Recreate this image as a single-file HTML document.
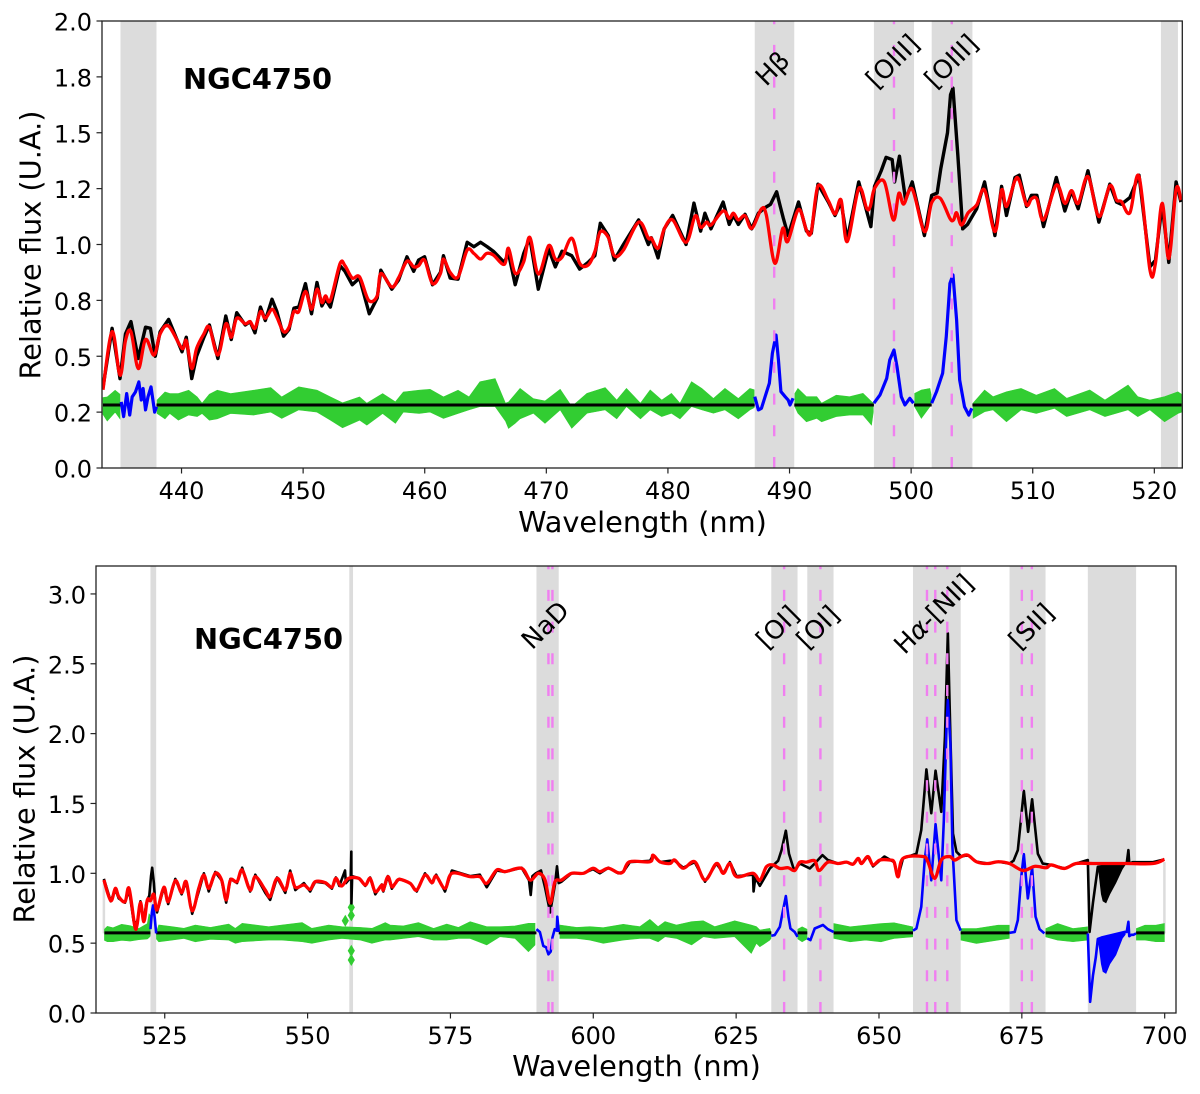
<!DOCTYPE html>
<html lang="en">
<head>
<meta charset="utf-8">
<title>NGC4750 spectrum</title>
<style>
html,body{margin:0;padding:0;background:#fff;}
svg{display:block;}
text{font-family:"DejaVu Sans","Liberation Sans",sans-serif;fill:#000;}
</style>
</head>
<body>
<svg id="figure" xmlns="http://www.w3.org/2000/svg" width="1200" height="1094" viewBox="0 0 1200 1094"></svg>
<script>
/* ---------- Panel 1 data (blue arm) ---------- */
const ticksX1 = [440,450,460,470,480,490,500,510,520];
const ticksY1 = [0,0.25,0.5,0.75,1,1.25,1.5,1.75,2];
const tickLabelsY1 = ["0.0","0.2","0.5","0.8","1.0","1.2","1.5","1.8","2.0"];
const bandStart1 = [434.74,486.9,496.7,501.45,520.3];
const bandEnd1 = [437.7,490.15,500.0,504.8,521.7];
const maskStart1 = [434.74,486.9,496.7,501.45];
const maskEnd1 = [437.7,490.15,500.0,504.8];
const lineWave1 = [488.5,498.35,503.1];
const baseline1 = 0.282;

const redWave1 = [433.3,434.05,434.7,435.15,435.6,436.2,436.8,437.5,438.0,438.7,439.8,440.15,440.6,441.0,441.6,442.05,442.75,443.4,443.85,444.3,445.0,445.4,445.8,446.25,446.65,447.2,447.6,448.15,448.6,449.0,449.4,449.95,450.45,450.9,451.3,451.6,452.0,452.8,453.2,453.8,454.4,455.15,455.85,456.15,457.05,457.6,458.3,458.85,459.25,459.75,460.4,461.05,461.3,461.85,462.5,463.25,463.8,464.35,464.85,465.4,466.3,466.65,467.2,467.9,468.4,469.1,469.95,470.5,471.05,471.85,472.5,473.2,473.75,474.2,474.85,475.35,476.1,477.35,478.15,478.4,478.95,479.45,480.15,481.25,482.0,482.45,482.95,483.3,484.3,484.8,485.15,485.55,486.1,486.65,487.45,487.85,488.55,489.2,489.6,490.5,491.15,491.55,492.1,492.95,493.5,494.0,494.5,495.45,496.1,496.4,496.75,497.55,498.3,498.75,499.15,499.85,500.85,501.45,502.15,502.95,503.25,503.5,503.9,504.45,505.15,505.8,506.65,507.2,507.6,508.3,508.65,509.25,509.65,510.1,510.65,511.7,512.4,512.95,513.5,514.3,515.2,516.1,516.65,517.05,517.75,518.5,519.4,519.85,520.4,520.95,521.55,521.95];
const redFlux1 = [0.35,0.61,0.415,0.57,0.61,0.445,0.575,0.505,0.60,0.635,0.535,0.57,0.445,0.535,0.60,0.63,0.505,0.645,0.585,0.67,0.645,0.655,0.625,0.70,0.67,0.71,0.675,0.61,0.63,0.70,0.70,0.79,0.71,0.80,0.74,0.77,0.75,0.915,0.905,0.85,0.855,0.75,0.77,0.87,0.81,0.85,0.925,0.90,0.905,0.93,0.825,0.87,0.935,0.875,0.855,0.975,0.96,0.935,0.96,0.953,0.911,0.983,0.871,0.923,1.032,0.868,0.995,0.935,0.943,1.028,0.916,0.908,0.968,1.057,1.032,0.949,0.975,1.10,1.028,1.028,0.983,1.068,1.11,1.01,1.128,1.077,1.10,1.087,1.15,1.117,1.14,1.11,1.129,1.072,1.159,1.132,0.916,1.072,1.013,1.157,1.065,1.058,1.262,1.196,1.136,1.199,1.013,1.251,1.162,1.17,1.251,1.281,1.11,1.229,1.181,1.248,1.058,1.187,1.207,1.117,1.11,1.142,1.087,1.142,1.177,1.244,1.058,1.244,1.17,1.286,1.286,1.177,1.204,1.204,1.11,1.266,1.184,1.241,1.184,1.304,1.125,1.263,1.199,1.192,1.142,1.304,0.886,0.916,1.184,0.938,1.247,1.199];

const blackWave1 = [433.3,434.05,434.7,435.15,435.6,436.2,436.8,437.2,437.6,438.0,438.7,439.8,440.15,440.6,441.0,441.6,442.05,442.75,443.4,443.85,444.3,445.0,445.4,445.8,446.25,446.65,447.2,447.6,448.15,448.6,449.0,449.4,449.95,450.45,450.9,451.3,451.6,452.0,452.8,453.2,453.8,454.4,455.2,455.85,456.15,457.05,457.6,458.3,458.85,459.25,459.75,460.4,461.05,461.3,461.85,462.5,463.25,463.8,464.35,464.9,465.4,466.3,466.65,467.2,467.9,468.4,469.1,469.95,470.5,471.05,471.85,472.5,473.2,473.75,474.2,474.85,475.35,476.1,477.35,478.15,478.4,478.95,479.45,480.15,481.25,481.9,482.45,482.8,483.3,484.3,484.8,485.15,485.55,486.1,486.65,487.2,487.75,488.2,488.7,489.0,489.25,489.65,490.5,491.15,491.55,492.1,492.95,493.5,494.0,494.5,495.45,496.1,496.45,496.75,497.3,497.7,498.2,498.4,498.8,499.3,499.85,500.85,501.45,501.9,502.2,502.75,503.0,503.2,503.6,504.0,504.4,505.15,505.8,506.65,507.2,507.6,508.3,508.65,509.25,509.65,510.1,510.65,511.7,512.4,512.95,513.5,514.3,515.2,516.1,516.65,517.05,517.75,518.5,519.4,519.85,520.4,520.95,521.55,521.95];
const blackFlux1 = [0.36,0.625,0.40,0.60,0.655,0.49,0.63,0.625,0.50,0.61,0.665,0.52,0.585,0.40,0.50,0.585,0.64,0.49,0.68,0.575,0.695,0.64,0.655,0.605,0.72,0.66,0.755,0.70,0.59,0.62,0.715,0.72,0.825,0.69,0.83,0.725,0.755,0.72,0.905,0.88,0.82,0.85,0.69,0.76,0.885,0.80,0.84,0.945,0.88,0.93,0.945,0.82,0.875,0.95,0.85,0.845,1.01,0.99,1.01,0.99,0.97,0.92,0.96,0.82,0.96,1.03,0.80,0.98,0.90,0.97,0.95,0.89,0.92,0.95,1.095,1.04,0.93,1.0,1.11,1.0,1.03,0.94,1.07,1.13,1.0,1.185,1.06,1.14,1.07,1.19,1.09,1.13,1.09,1.135,1.07,1.14,1.165,1.18,1.236,1.17,1.117,1.04,1.19,1.06,1.05,1.27,1.19,1.13,1.19,1.02,1.28,1.15,1.08,1.26,1.33,1.39,1.38,1.28,1.395,1.2,1.28,1.04,1.22,1.23,1.34,1.5,1.67,1.70,1.4,1.07,1.09,1.16,1.28,1.04,1.26,1.13,1.30,1.31,1.17,1.22,1.22,1.08,1.30,1.15,1.24,1.16,1.33,1.10,1.27,1.19,1.18,1.21,1.31,0.90,0.93,1.18,0.92,1.28,1.19];

const blueWave1 = [434.8,435.0,435.25,435.5,435.7,435.97,436.25,436.45,436.6,436.8,437.0,437.25,437.55,437.7,null,486.9,487.2,487.45,487.75,488.1,488.35,488.65,488.85,489.05,489.4,489.65,489.8,490.05,null,496.7,497.2,497.75,498.0,498.35,498.6,498.95,499.25,499.65,499.95,null,501.45,501.85,502.35,502.65,502.95,503.2,503.5,503.75,504.15,504.5,504.75];
const blueFlux1 = [0.296,0.23,0.333,0.237,0.318,0.34,0.385,0.304,0.356,0.26,0.318,0.363,0.25,0.274,null,0.319,0.26,0.267,0.319,0.379,0.513,0.595,0.483,0.342,0.319,0.304,0.282,0.312,null,0.29,0.327,0.401,0.483,0.528,0.453,0.319,0.282,0.312,0.29,null,0.29,0.342,0.424,0.588,0.826,0.864,0.662,0.394,0.274,0.237,0.267];

const greenWave1 = [433.3,433.65,434.3,434.7,437.75,438.4,438.8,439.5,440.35,441.05,441.45,442.05,442.7,443.8,445.7,447.1,448.0,449.4,450.9,452.0,453.0,454.4,455.0,456.3,457.35,458.0,459.3,460.2,461.3,462.5,463.4,464.3,465.55,466.4,466.65,467.2,467.6,468.7,469.65,470.9,471.85,473.1,474.6,475.55,476.35,477.5,478.3,479.25,480.05,480.75,481.7,482.55,483.5,484.45,485.55,486.5,486.85,490.2,490.45,491.15,492.0,492.4,493.6,494.7,495.8,496.5,496.65,500.05,500.6,501.3,501.4,504.85,505.8,506.5,507.6,508.8,510.05,511.55,512.55,514.45,515.7,517.6,518.4,519.4,520.6,521.7,522.0];
const greenUpper1 = [0.315,0.318,0.348,0.33,0.304,0.34,0.333,0.333,0.348,0.318,0.29,0.33,0.348,0.333,0.348,0.36,0.318,0.363,0.348,0.318,0.292,0.318,0.29,0.333,0.296,0.34,0.348,0.352,0.318,0.348,0.318,0.386,0.40,0.29,0.295,0.33,0.356,0.31,0.30,0.352,0.275,0.334,0.36,0.304,0.356,0.29,0.349,0.304,0.334,0.29,0.386,0.356,0.311,0.356,0.311,0.356,0.35,0.334,0.356,0.319,0.319,0.29,0.326,0.319,0.334,0.297,0.29,0.334,0.349,0.356,0.33,0.29,0.349,0.319,0.341,0.356,0.326,0.356,0.312,0.349,0.304,0.371,0.319,0.304,0.319,0.341,0.33];
const greenLower1 = [0.24,0.21,0.25,0.22,0.244,0.22,0.244,0.214,0.237,0.23,0.244,0.214,0.22,0.244,0.237,0.25,0.222,0.26,0.25,0.214,0.18,0.214,0.192,0.244,0.2,0.25,0.244,0.25,0.222,0.244,0.26,0.275,0.275,0.21,0.177,0.20,0.22,0.245,0.20,0.26,0.178,0.245,0.26,0.22,0.275,0.22,0.26,0.23,0.245,0.22,0.275,0.26,0.245,0.26,0.22,0.26,0.27,0.274,0.245,0.207,0.222,0.207,0.23,0.237,0.237,0.192,0.25,0.274,0.222,0.274,0.28,0.222,0.252,0.26,0.207,0.26,0.244,0.267,0.23,0.26,0.23,0.26,0.23,0.26,0.207,0.244,0.25];

/* ---------- Panel 2 data (red arm) ---------- */
const ticksX2 = [525,550,575,600,625,650,675,700];
const ticksY2 = [0,0.5,1,1.5,2,2.5,3];
const tickLabelsY2 = ["0.0","0.5","1.0","1.5","2.0","2.5","3.0"];
const bandStart2 = [522.55,557.35,590.1,631.2,637.5,656.0,672.9,686.6];
const bandEnd2 = [523.55,558.0,594.0,635.8,642.1,664.35,679.2,695.05];
const maskStart2 = [522.55,590.1,631.2,637.5,656.0,672.9,686.6];
const maskEnd2 = [523.55,594.0,635.8,642.1,664.35,679.2,695.05];
const lineWave2 = [592.2,592.9,633.45,639.8,658.45,659.9,662.0,675.05,676.8];
const baseline2 = 0.574;
const stripWave2 = [514.4,700.0];
const stripLow2 = [0.57,0.57];
const stripHigh2 = [0.93,1.08];
const diamondWave2 = [556.65,557.7,557.7,557.7,557.7];
const diamondFlux2 = [0.66,0.756,0.699,0.446,0.379];

const redWave2 = [514.4,515.6,516.4,517.0,518.1,518.8,519.8,520.2,520.8,521.4,522.0,522.55,523.15,523.7,524.9,525.65,526.9,528.0,528.8,529.85,531.0,531.9,532.75,533.9,535.0,535.8,536.55,537.7,538.6,540.0,540.9,542.65,543.5,544.7,546.15,547.0,547.9,549.4,550.5,551.4,553.15,554.3,555.0,555.95,557.2,559.0,560.15,561.0,561.9,563.05,563.3,564.1,564.8,565.4,566.1,568.0,569.15,570.6,571.8,572.55,574.1,575.3,578.5,580.2,581.4,583.15,584.6,587.5,589.0,590.45,591.6,592.5,593.35,594.5,596.25,598.3,600.0,601.2,602.7,604.4,605.3,606.45,610.0,610.5,611.7,613.45,614.3,615.8,617.8,619.6,621.6,622.8,623.95,625.1,628.0,629.2,630.35,631.5,632.7,634.15,635.3,636.2,637.35,638.8,639.55,641.1,642.9,644.35,645.5,646.4,647.0,648.1,649.0,650.2,651.9,652.7,653.4,654.25,657.75,658.6,659.8,660.95,662.4,663.3,664.45,665.6,667.1,669.1,670.9,672.9,675.25,677.3,679.3,680.2,682.5,684.55,687.5,693.3,698.0,700.0];
const redFlux2 = [0.952,0.804,0.892,0.833,0.797,0.892,0.623,0.63,0.79,0.654,0.809,0.804,0.85,0.737,0.90,0.797,0.947,0.861,0.94,0.732,0.892,0.988,0.892,1.0,0.952,0.809,0.952,0.94,1.024,0.88,0.976,0.88,0.833,0.964,0.88,1.0,0.90,0.916,0.885,0.94,0.933,0.90,0.964,0.909,0.964,0.964,0.916,0.964,0.868,0.916,0.88,0.976,0.904,0.928,0.957,0.928,0.88,0.988,0.933,0.98,0.892,1.0,0.976,0.976,0.928,1.024,1.012,1.036,0.952,1.0,0.952,0.785,0.94,0.952,1.0,1.0,1.036,1.012,1.036,1.004,1.012,1.083,1.083,1.13,1.083,1.07,1.095,1.036,1.083,0.952,1.07,1.0,1.07,0.976,1.0,0.95,1.047,1.06,1.035,1.04,1.02,1.08,1.08,1.09,1.02,1.08,1.07,1.08,1.065,1.107,1.07,1.12,1.06,1.095,1.095,1.08,0.975,1.107,1.12,1.083,0.964,1.095,1.12,1.095,1.12,1.13,1.083,1.07,1.083,1.07,1.02,1.05,1.04,1.06,1.035,1.07,1.07,1.07,1.07,1.10];

const blackWave2 = [514.4,515.6,516.4,517.0,518.1,518.8,519.6,520.2,520.8,521.4,521.8,522.1,522.35,522.65,522.85,523.15,523.4,523.7,524.9,525.65,526.9,528.0,528.8,529.85,531.0,531.9,532.75,533.9,535.0,535.8,536.55,537.7,538.6,540.0,540.9,542.65,543.5,544.7,546.15,547.0,547.9,549.4,550.5,551.4,553.15,554.3,555.0,555.6,556.6,556.75,557.6,557.7,557.72,557.85,559.0,560.15,561.0,561.9,563.05,563.3,564.1,564.8,565.4,566.1,568.0,569.15,570.6,571.8,572.55,574.1,575.3,578.5,580.2,581.4,583.15,584.6,587.5,588.8,589.1,589.4,590.0,590.9,591.6,592.5,593.35,593.7,594.0,594.5,596.25,598.3,600.0,601.2,602.7,604.4,605.3,606.45,610.0,610.5,611.7,613.45,614.3,615.8,617.8,619.6,621.6,622.8,623.95,625.1,628.0,628.1,628.4,629.2,630.95,632.4,633.0,633.75,634.3,635.0,635.3,636.2,637.95,638.8,640.15,641.1,642.9,644.35,645.5,646.4,647.0,648.1,649.0,651.0,652.7,653.4,654.25,656.6,657.45,658.35,659.2,659.95,660.95,661.6,662.1,662.55,663.0,663.6,664.45,665.6,667.1,669.1,670.9,672.9,673.6,674.35,675.4,676.15,676.85,677.85,678.7,680.2,682.5,684.55,686.6,686.9,687.5,688.35,689.0,690.0,691.0,692.0,693.0,693.4,693.7,693.85,694.5,696.0,698.0,700.0];
const blackFlux2 = [0.96,0.80,0.885,0.82,0.79,0.885,0.66,0.64,0.80,0.66,0.78,0.82,0.84,0.98,1.04,0.93,0.78,0.72,0.90,0.78,0.96,0.85,0.94,0.71,0.87,1.0,0.87,1.01,0.95,0.79,0.96,0.93,1.04,0.87,0.99,0.86,0.81,0.97,0.86,1.02,0.88,0.93,0.87,0.94,0.93,0.89,0.97,0.91,1.02,0.93,0.97,1.155,0.785,0.98,0.965,0.91,0.97,0.85,0.92,0.87,0.98,0.89,0.93,0.96,0.93,0.87,1.0,0.93,0.99,0.87,1.02,0.98,0.99,0.90,1.02,1.01,1.04,0.95,0.845,0.98,1.0,1.02,0.90,0.72,0.92,1.05,0.93,0.94,1.0,1.0,1.03,1.0,1.04,1.0,1.01,1.08,1.09,1.13,1.08,1.09,1.09,1.04,1.08,0.94,1.07,1.0,1.08,0.98,0.99,0.87,0.97,0.91,1.035,1.09,1.166,1.305,1.14,1.047,1.02,1.07,1.035,1.07,1.13,1.095,1.07,1.08,1.065,1.107,1.07,1.12,1.05,1.12,1.08,0.975,1.107,1.14,1.31,1.744,1.43,1.735,1.44,1.98,2.72,1.98,1.285,1.155,1.12,1.13,1.083,1.07,1.083,1.07,1.09,1.166,1.59,1.297,1.53,1.14,1.07,1.06,1.035,1.07,1.095,0.58,0.79,1.047,1.05,1.06,1.06,1.07,1.07,1.07,1.166,1.07,1.08,1.08,1.08,1.10];

const blueWave2 = [522.55,522.8,523.0,523.3,523.55,null,590.1,590.7,591.3,591.8,592.2,592.6,592.9,593.3,593.65,593.75,594.0,null,631.2,631.8,632.7,633.15,633.75,634.2,634.55,635.3,635.8,null,637.5,638.05,638.8,640.25,641.1,642.1,null,656.0,656.6,657.45,658.05,658.5,659.2,659.95,660.95,661.4,661.85,662.1,662.55,662.9,663.6,664.35,null,672.9,673.8,674.35,674.95,675.4,676.1,676.85,677.45,678.15,679.0,null,686.6,687.0,687.5,688.0,688.35,689.0,690.0,691.0,692.0,693.0,693.4,693.7,693.85,694.2,694.6,695.05];
const blueFlux2 = [0.60,0.72,0.77,0.68,0.57,null,0.60,0.58,0.48,0.47,0.42,0.44,0.54,0.60,0.59,0.69,0.58,null,0.553,0.558,0.617,0.713,0.837,0.69,0.605,0.58,0.545,null,0.534,0.522,0.605,0.63,0.60,0.58,null,0.589,0.605,0.76,1.095,1.243,0.95,1.352,0.95,1.38,2.025,2.24,1.93,1.19,0.665,0.59,null,0.574,0.58,0.665,0.975,1.137,0.82,1.04,0.69,0.60,0.57,null,0.57,0.08,0.27,0.40,0.53,0.54,0.55,0.56,0.57,0.58,0.58,0.653,0.55,0.56,0.56,0.57];

/* Unresolved rapid oscillation beyond 688 nm, read as an upper/lower envelope */
const envWave2 = [688.35,688.9,689.2,689.8,690.5,691.55,692.7,693.2];
const blackEnvUpper2 = [1.05,1.05,1.05,1.06,1.06,1.07,1.07,1.07];
const blackEnvLower2 = [1.05,0.85,0.80,0.785,0.85,0.93,1.03,1.06];
const blueEnvUpper2 = [0.53,0.54,0.54,0.55,0.55,0.56,0.57,0.58];
const blueEnvLower2 = [0.53,0.35,0.295,0.28,0.35,0.414,0.534,0.56];

const greenWave2 = [514.5,515.0,516.0,517.5,519.0,520.5,522.0,522.3,522.5,523.6,524.0,526.35,528.4,530.4,533.05,536.25,537.4,538.6,543.25,545.55,549.1,550.8,553.75,556.05,559.3,561.3,563.65,564.5,566.8,569.45,572.1,574.4,576.45,578.5,581.4,583.7,586.35,588.7,589.85,594.2,597.15,599.45,601.8,605.3,608.2,609.95,611.4,612.6,614.6,617.25,619.3,621.3,624.8,627.7,628.6,629.2,630.95,631.15,635.85,636.6,637.45,642.15,645.0,647.7,650.4,652.7,655.95,664.4,667.1,670.9,672.85,679.25,681.3,684.0,686.55,695.1,696.6,698.5,700.0];
const greenUpper2 = [0.60,0.62,0.61,0.635,0.625,0.605,0.64,0.71,0.70,0.58,0.63,0.618,0.606,0.63,0.613,0.637,0.606,0.642,0.618,0.63,0.647,0.606,0.63,0.618,0.613,0.606,0.647,0.63,0.623,0.647,0.606,0.637,0.613,0.654,0.618,0.618,0.623,0.642,0.642,0.63,0.613,0.618,0.611,0.635,0.618,0.67,0.618,0.654,0.63,0.654,0.66,0.618,0.66,0.63,0.618,0.594,0.606,0.58,0.60,0.617,0.60,0.64,0.617,0.629,0.64,0.646,0.617,0.605,0.605,0.629,0.629,0.605,0.641,0.605,0.617,0.605,0.629,0.629,0.641];
const greenLower2 = [0.52,0.51,0.51,0.52,0.515,0.525,0.53,0.54,0.55,0.53,0.51,0.522,0.534,0.51,0.527,0.522,0.499,0.51,0.522,0.522,0.51,0.499,0.522,0.534,0.522,0.499,0.522,0.522,0.534,0.546,0.522,0.522,0.534,0.534,0.487,0.546,0.534,0.439,0.487,0.534,0.534,0.522,0.499,0.522,0.534,0.534,0.51,0.546,0.534,0.487,0.546,0.534,0.546,0.427,0.499,0.474,0.522,0.534,0.53,0.51,0.53,0.534,0.51,0.522,0.51,0.534,0.545,0.522,0.498,0.522,0.534,0.545,0.522,0.51,0.522,0.522,0.522,0.51,0.51];

/* ---------- Helpers ---------- */
const NS = 'http://www.w3.org/2000/svg';
const fig = document.getElementById('figure');

function mk(parent, tag, attrs, content) {
  const el = document.createElementNS(NS, tag);
  for (const k in attrs) el.setAttribute(k, attrs[k]);
  if (content !== undefined) el.textContent = content;
  parent.appendChild(el);
  return el;
}
function linearScale(d0, d1, r0, r1) {
  return function (v) { return r0 + (v - d0) * (r1 - r0) / (d1 - d0); };
}
function inMask(w, ms, me) {
  for (let i = 0; i < ms.length; i++) if (w > ms[i] && w < me[i]) return true;
  return false;
}
function crossesMask(a, b, ms, me) {
  for (let i = 0; i < ms.length; i++) if (a < ms[i] && b > me[i]) return true;
  return false;
}
function linePath(wave, flux, sx, sy) {
  let d = '', pen = false;
  for (let i = 0; i < wave.length; i++) {
    if (wave[i] === null || flux[i] === null) { pen = false; continue; }
    d += (pen ? 'L' : 'M') + sx(wave[i]).toFixed(2) + ' ' + sy(flux[i]).toFixed(2);
    pen = true;
  }
  return d;
}
function smoothPath(wave, flux, sx, sy) {
  const p = wave.map(function (w, i) { return [sx(w), sy(flux[i])]; });
  let d = 'M' + p[0][0].toFixed(2) + ' ' + p[0][1].toFixed(2);
  for (let i = 0; i < p.length - 1; i++) {
    const a = p[Math.max(i - 1, 0)], b = p[i], c = p[i + 1], e = p[Math.min(i + 2, p.length - 1)];
    const c1x = b[0] + (c[0] - a[0]) / 6, c1y = b[1] + (c[1] - a[1]) / 6;
    const c2x = c[0] - (e[0] - b[0]) / 6, c2y = c[1] - (e[1] - b[1]) / 6;
    d += 'C' + c1x.toFixed(2) + ' ' + c1y.toFixed(2) + ' ' + c2x.toFixed(2) + ' ' + c2y.toFixed(2) + ' ' + c[0].toFixed(2) + ' ' + c[1].toFixed(2);
  }
  return d;
}
function envelopePath(wave, up, lo, ms, me, sx, sy) {
  let d = '', seg = [];
  function flush() {
    if (seg.length > 1) {
      let s = '';
      seg.forEach(function (i, n) { s += (n ? 'L' : 'M') + sx(wave[i]).toFixed(2) + ' ' + sy(up[i]).toFixed(2); });
      seg.slice().reverse().forEach(function (i) { s += 'L' + sx(wave[i]).toFixed(2) + ' ' + sy(lo[i]).toFixed(2); });
      d += s + 'Z';
    }
    seg = [];
  }
  for (let i = 0; i < wave.length; i++) {
    if (inMask(wave[i], ms, me)) { flush(); continue; }
    if (seg.length && crossesMask(wave[seg[seg.length - 1]], wave[i], ms, me)) flush();
    seg.push(i);
  }
  flush();
  return d;
}
function baselinePath(v, d0, d1, ms, me, sx, sy) {
  let d = '', start = d0;
  const y = sy(v).toFixed(2);
  for (let i = 0; i < ms.length; i++) {
    d += 'M' + sx(start).toFixed(2) + ' ' + y + 'L' + sx(ms[i]).toFixed(2) + ' ' + y;
    start = me[i];
  }
  d += 'M' + sx(start).toFixed(2) + ' ' + y + 'L' + sx(d1).toFixed(2) + ' ' + y;
  return d;
}

/* ---------- Panel renderer ---------- */
function drawPanel(cfg) {
  const sxAxis = linearScale(cfg.xd[0], cfg.xd[1], cfg.L, cfg.R);
  /* wavelength calibration of the spectrum relative to the tick marks */
  const sx = function (w) { return sxAxis(w + cfg.calib); };
  const sy = linearScale(cfg.yd[0], cfg.yd[1], cfg.B, cfg.T);

  const g = mk(fig, 'g', {});
  
  

  const defs = mk(g, 'defs', {});
  const cp = mk(defs, 'clipPath', { id: cfg.id + '-clip' });
  mk(cp, 'rect', { x: cfg.L, y: cfg.T, width: cfg.R - cfg.L, height: cfg.B - cfg.T });

  const plot = mk(g, 'g', { 'clip-path': 'url(#' + cfg.id + '-clip)' });
  
  

  cfg.bandStart.forEach(function (s, i) {
    const b = mk(plot, 'rect', { x: sx(s), y: cfg.T, width: sx(cfg.bandEnd[i]) - sx(s), height: cfg.B - cfg.T, fill: '#dcdcdc' });
    
    
  });

  if (cfg.stripWave) {
    cfg.stripWave.forEach(function (w, i) {
      const st = mk(plot, 'line', { x1: sx(w), x2: sx(w), y1: sy(cfg.stripLow[i]), y2: sy(cfg.stripHigh[i]), stroke: '#dcdcdc', 'stroke-width': 2.5 });
      
      
    });
  }

  const green = mk(plot, 'path', { d: envelopePath(cfg.gw, cfg.gu, cfg.gl, cfg.ms, cfg.me, sx, sy), fill: '#32cd32', stroke: '#32cd32', 'stroke-width': 0.6 });
  
  

  if (cfg.dw) {
    cfg.dw.forEach(function (w, i) {
      const cx = sx(w), cy = sy(cfg.df[i]);
      const di = mk(plot, 'polygon', { points: cx + ',' + (cy - 6) + ' ' + (cx + 3.6) + ',' + cy + ' ' + cx + ',' + (cy + 6) + ' ' + (cx - 3.6) + ',' + cy, fill: '#32cd32' });
      
      
    });
  }

  const base = mk(plot, 'path', { d: baselinePath(cfg.base, cfg.gw[0], cfg.gw[cfg.gw.length - 1], cfg.ms, cfg.me, sx, sy), fill: 'none', stroke: '#000', 'stroke-width': 3 });
  
  

  const black = mk(plot, 'path', { d: linePath(cfg.kw, cfg.kf, sx, sy), fill: 'none', stroke: '#000', 'stroke-width': cfg.kStroke, 'stroke-linejoin': 'round' });
  
  

  const blue = mk(plot, 'path', { d: linePath(cfg.bw, cfg.bf, sx, sy), fill: 'none', stroke: '#0000ff', 'stroke-width': cfg.bStroke, 'stroke-linejoin': 'round' });
  
  

  if (cfg.ew) {
    const ke = mk(plot, 'path', { d: envelopePath(cfg.ew, cfg.eku, cfg.ekl, [], [], sx, sy), fill: '#000' });
    
    
    const be = mk(plot, 'path', { d: envelopePath(cfg.ew, cfg.ebu, cfg.ebl, [], [], sx, sy), fill: '#0000ff' });
    
    
  }

  cfg.lines.forEach(function (w) {
    const l = mk(plot, 'line', { x1: sx(w), x2: sx(w), y1: cfg.B, y2: cfg.T, stroke: '#f07ff0', 'stroke-width': 2.4, 'stroke-dasharray': '11 20.7' });
    
    
  });

  const red = mk(plot, 'path', { d: smoothPath(cfg.rw, cfg.rf, sx, sy), fill: 'none', stroke: '#ff0000', 'stroke-width': 3.3, 'stroke-linejoin': 'round' });
  
  

  const frame = mk(g, 'rect', { x: cfg.L, y: cfg.T, width: cfg.R - cfg.L, height: cfg.B - cfg.T, fill: 'none', stroke: '#222', 'stroke-width': 1.3 });
  
  

  cfg.tx.forEach(function (t) {
    const tk = mk(g, 'line', { x1: sxAxis(t), x2: sxAxis(t), y1: cfg.B, y2: cfg.B + 5.5, stroke: '#222', 'stroke-width': 1.2 });
    
    
    const lb = mk(g, 'text', { x: sxAxis(t), y: cfg.B + 31, 'text-anchor': 'middle', 'font-size': 24 }, String(t));
    
    
  });
  cfg.ty.forEach(function (t, i) {
    const tk = mk(g, 'line', { x1: cfg.L - 5.5, x2: cfg.L, y1: sy(t), y2: sy(t), stroke: '#222', 'stroke-width': 1.2 });
    
    
    const lb = mk(g, 'text', { x: cfg.L - 10, y: sy(t) + 9.5, 'text-anchor': 'end', 'font-size': 24 }, cfg.tyl[i]);
    
    
  });

  const xl = mk(g, 'text', { x: cfg.xlx, y: cfg.xly, 'text-anchor': 'middle', 'font-size': 28.8 }, 'Wavelength (nm)');
  
  
  const yl = mk(g, 'text', { x: 0, y: 0, 'text-anchor': 'middle', 'font-size': 28.8, transform: 'translate(' + cfg.ylx + ' ' + cfg.yly + ') rotate(-90)' }, 'Relative flux (U.A.)');
  
  

  const nm = mk(g, 'text', { x: cfg.nx, y: cfg.ny, 'font-size': 28.8, 'font-weight': 'bold' }, 'NGC4750');
  
  

  cfg.notes.forEach(function (n) {
    const a = mk(g, 'text', { x: 0, y: 0, 'text-anchor': 'middle', 'dominant-baseline': 'central', 'font-size': 25.6, transform: 'translate(' + n[1] + ' ' + n[2] + ') rotate(-45)' });
    
    
    a.appendChild(document.createTextNode(n[0]));
    if (n[3]) {
      const sp = mk(a, 'tspan', { 'font-style': 'italic' }, n[3]);
      
      
    }
    if (n[4]) a.appendChild(document.createTextNode(n[4]));
  });
}

drawPanel({
  id: 'blue-arm', L: 102, R: 1182.3, T: 21, B: 468,
  xd: [433.46, 522.3], yd: [0, 2], calib: 0.24,
  tx: ticksX1, ty: ticksY1, tyl: tickLabelsY1,
  bandStart: bandStart1, bandEnd: bandEnd1, ms: maskStart1, me: maskEnd1,
  lines: lineWave1, base: baseline1,
  rw: redWave1, rf: redFlux1, kw: blackWave1, kf: blackFlux1, bw: blueWave1, bf: blueFlux1,
  gw: greenWave1, gu: greenUpper1, gl: greenLower1,
  kStroke: 3.4, bStroke: 3.2,
  xlx: 642.5, xly: 532, ylx: 40.5, yly: 245, nx: 183, ny: 89,
  notes: [['H\u03B2', 773, 69], ['[OIII]', 893, 61.7], ['[OIII]', 951.7, 61.7]]
});
drawPanel({
  id: 'red-arm', L: 96, R: 1176, T: 566, B: 1013,
  xd: [512.97, 701.98], yd: [0, 3.2], calib: -0.05,
  tx: ticksX2, ty: ticksY2, tyl: tickLabelsY2,
  bandStart: bandStart2, bandEnd: bandEnd2, ms: maskStart2, me: maskEnd2,
  lines: lineWave2, base: baseline2,
  stripWave: stripWave2, stripLow: stripLow2, stripHigh: stripHigh2,
  dw: diamondWave2, df: diamondFlux2,
  rw: redWave2, rf: redFlux2, kw: blackWave2, kf: blackFlux2, bw: blueWave2, bf: blueFlux2,
  ew: envWave2, eku: blackEnvUpper2, ekl: blackEnvLower2, ebu: blueEnvUpper2, ebl: blueEnvLower2,
  gw: greenWave2, gu: greenUpper2, gl: greenLower2,
  kStroke: 2.6, bStroke: 2.6,
  xlx: 636.5, xly: 1076, ylx: 34.5, yly: 789, nx: 194, ny: 649,
  notes: [['NaD', 545.8, 625.7], ['[OI]', 778, 627.5], ['[OI]', 818.3, 627.5], ['H', 934.2, 614.5, '\u03B1', '-[NII]'], ['[SII]', 1031.7, 626.7]]
});
</script>
</body>
</html>
